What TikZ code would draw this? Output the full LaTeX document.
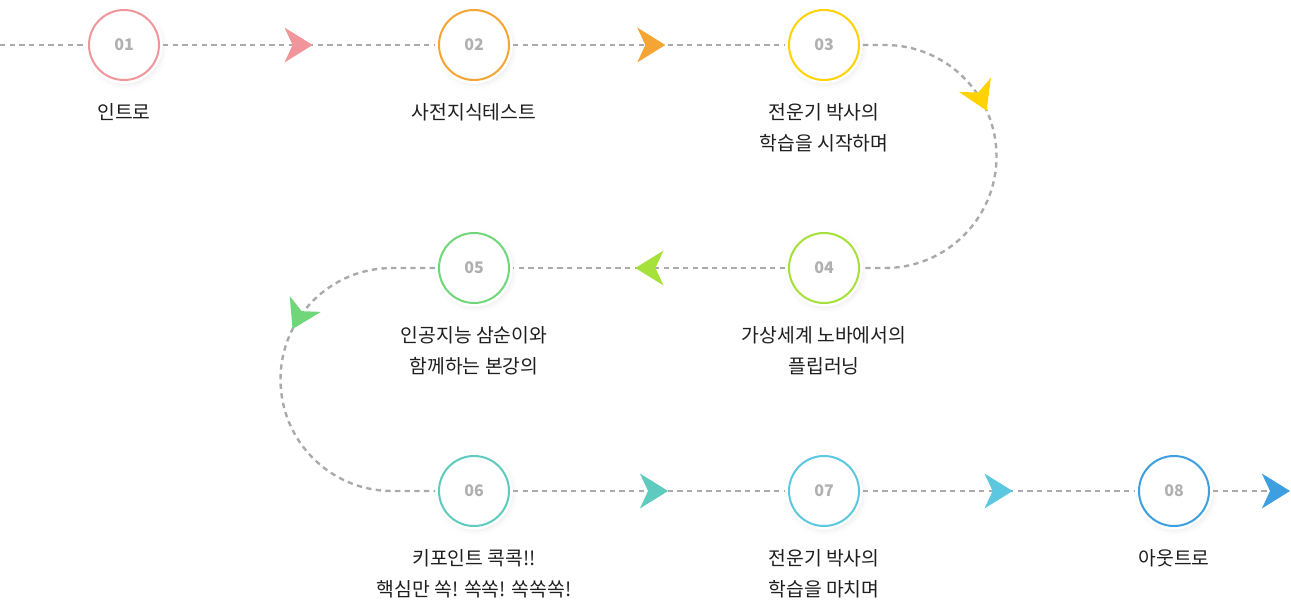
\documentclass[tikz,border=0pt]{standalone}
\usepackage{fontspec}
\setmainfont{Noto Sans CJK KR}
\usetikzlibrary{arrows.meta, positioning, shadows, decorations.markings}
\definecolor{linegray}{RGB}{170,170,170}
\definecolor{numgray}{RGB}{176,176,176}
\definecolor{txtblack}{RGB}{30,30,30}
\definecolor{stepone}{RGB}{240,150,154}
\definecolor{steptwo}{RGB}{244,165,52}
\definecolor{stepthree}{RGB}{255,210,0}
\definecolor{stepfour}{RGB}{166,224,58}
\definecolor{stepfive}{RGB}{112,214,122}
\definecolor{stepsix}{RGB}{94,203,190}
\definecolor{stepseven}{RGB}{92,200,224}
\definecolor{stepeight}{RGB}{62,159,224}

\begin{document}
\begin{tikzpicture}[x=0.75pt, y=0.75pt,
    stepcircle/.style={circle, fill=white, minimum size=58pt, inner sep=0pt,
        font=\fontsize{12}{14}\selectfont\bfseries, text=numgray,
        circular drop shadow={shadow xshift=1pt, shadow yshift=-1.5pt, shadow scale=1.12, opacity=0.04},
        circular drop shadow={shadow xshift=1pt, shadow yshift=-1.5pt, shadow scale=1.06, opacity=0.05},
        circular drop shadow={shadow xshift=1pt, shadow yshift=-1pt, shadow scale=1.0, opacity=0.06},
        path picture={\draw[#1, line width=1.5pt] (path picture bounding box.center) circle (26.25pt);}},
    steplabel/.style={below=14.5pt of #1, align=center, inner sep=0pt, text=txtblack,
        font=\fontsize{14.5}{23}\selectfont},
    flow/.style={draw=linegray, line width=1.8pt, dash pattern=on 4pt off 3.25pt},
    tipat/.style 2 args={postaction={decorate}, decoration={markings,
        mark=at position #1 with {\arrow{Stealth[length=21pt, width=26pt, inset=6pt, color=#2]}}}},
    endtip/.style={-{Stealth[length=21pt, width=26pt, inset=6pt, color=#1]}}
]
    \useasboundingbox (0,0) rectangle (1291,604);

    % Step circles
    \node[stepcircle=stepone]   (n1) at (124,559)  {01};
    \node[stepcircle=steptwo]   (n2) at (474,559)  {02};
    \node[stepcircle=stepthree] (n3) at (824,559)  {03};
    \node[stepcircle=stepfour]  (n4) at (824,336)  {04};
    \node[stepcircle=stepfive]  (n5) at (474,336)  {05};
    \node[stepcircle=stepsix]   (n6) at (474,113)  {06};
    \node[stepcircle=stepseven] (n7) at (824,113)  {07};
    \node[stepcircle=stepeight] (n8) at (1174,113) {08};

    % Labels
    \node[steplabel=n1] (l1) {인트로};
    \node[steplabel=n2] (l2) {사전지식테스트};
    \node[steplabel=n3] (l3) {전운기 박사의\\학습을 시작하며};
    \node[steplabel=n4] (l4) {가상세계 노바에서의\\플립러닝};
    \node[steplabel=n5] (l5) {인공지능 삼순이와\\함께하는 본강의};
    \node[steplabel=n6] (l6) {키포인트 콕콕!!\\핵심만 쏙! 쏙쏙! 쏙쏙쏙!};
    \node[steplabel=n7] (l7) {전운기 박사의\\학습을 마치며};
    \node[steplabel=n8] (l8) {아웃트로};

    % Flow line
    \coordinate (start) at (0,559);
    \coordinate (finish) at (1290,113);
    \draw[flow] (start) -- (n1);
    \draw[flow, tipat={0.55}{stepone}] (n1) -- (n2);
    \draw[flow, tipat={0.56}{steptwo}] (n2) -- (n3);
    \draw[flow, tipat={0.38}{stepthree}] (n3) -- (885,559)
        arc[start angle=90, end angle=-90, radius=111.5] -- (n4);
    \draw[flow, tipat={0.55}{stepfour}] (n4) -- (n5);
    \draw[flow, tipat={0.38}{stepfive}] (n5) -- (392,336)
        arc[start angle=90, end angle=270, radius=111.5] -- (n6);
    \draw[flow, tipat={0.57}{stepsix}] (n6) -- (n7);
    \draw[flow, tipat={0.55}{stepseven}] (n7) -- (n8);
    \draw[flow, endtip=stepeight] (n8) -- (finish);
\end{tikzpicture}
\end{document}
